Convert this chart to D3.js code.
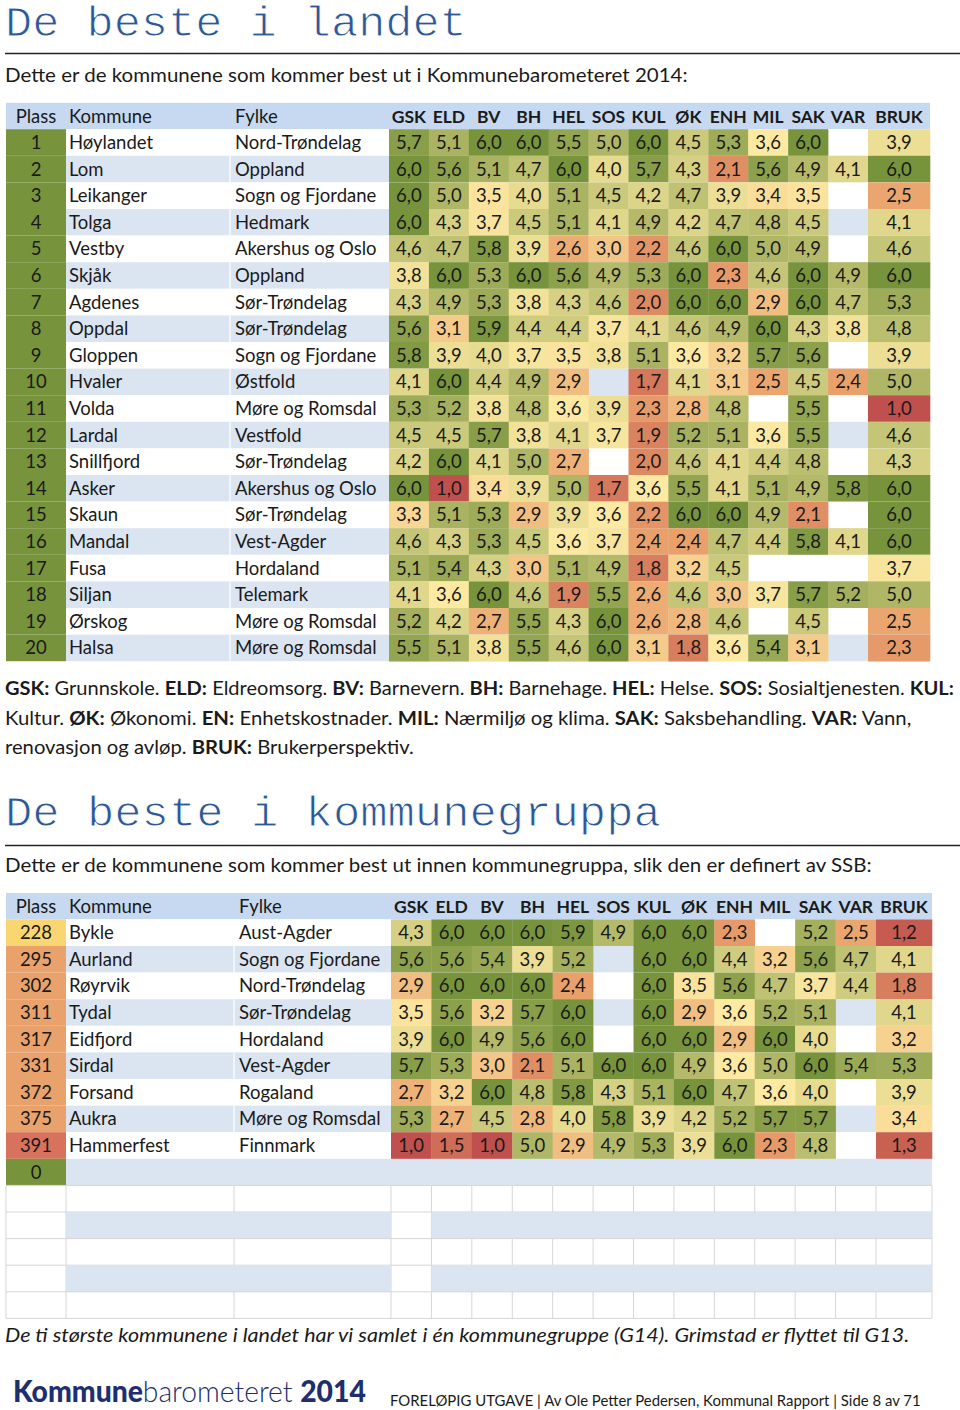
<!DOCTYPE html>
<html><head><meta charset="utf-8">
<script src="https://cdn.jsdelivr.net/npm/d3@7"></script>
<style>
html,body{margin:0;padding:0;background:#fff;}
svg{display:block;font-family:Lato,"Open Sans",sans-serif;}
</style></head>
<body>
<svg id="chart" width="960" height="1410"></svg>
<script>
// ---------- DATA ----------
const columns = ["GSK","ELD","BV","BH","HEL","SOS","KUL","ØK","ENH","MIL","SAK","VAR","BRUK"];

const landetPlass = [1,2,3,4,5,6,7,8,9,10,11,12,13,14,15,16,17,18,19,20];
const landetKommune = ["Høylandet","Lom","Leikanger","Tolga","Vestby","Skjåk","Agdenes","Oppdal","Gloppen","Hvaler","Volda","Lardal","Snillfjord","Asker","Skaun","Mandal","Fusa","Siljan","Ørskog","Halsa"];
const landetFylke = ["Nord-Trøndelag","Oppland","Sogn og Fjordane","Hedmark","Akershus og Oslo","Oppland","Sør-Trøndelag","Sør-Trøndelag","Sogn og Fjordane","Østfold","Møre og Romsdal","Vestfold","Sør-Trøndelag","Akershus og Oslo","Sør-Trøndelag","Vest-Agder","Hordaland","Telemark","Møre og Romsdal","Møre og Romsdal"];
const landetVerdier = [
  [5.7,5.1,6.0,6.0,5.5,5.0,6.0,4.5,5.3,3.6,6.0,null,3.9],
  [6.0,5.6,5.1,4.7,6.0,4.0,5.7,4.3,2.1,5.6,4.9,4.1,6.0],
  [6.0,5.0,3.5,4.0,5.1,4.5,4.2,4.7,3.9,3.4,3.5,null,2.5],
  [6.0,4.3,3.7,4.5,5.1,4.1,4.9,4.2,4.7,4.8,4.5,null,4.1],
  [4.6,4.7,5.8,3.9,2.6,3.0,2.2,4.6,6.0,5.0,4.9,null,4.6],
  [3.8,6.0,5.3,6.0,5.6,4.9,5.3,6.0,2.3,4.6,6.0,4.9,6.0],
  [4.3,4.9,5.3,3.8,4.3,4.6,2.0,6.0,6.0,2.9,6.0,4.7,5.3],
  [5.6,3.1,5.9,4.4,4.4,3.7,4.1,4.6,4.9,6.0,4.3,3.8,4.8],
  [5.8,3.9,4.0,3.7,3.5,3.8,5.1,3.6,3.2,5.7,5.6,null,3.9],
  [4.1,6.0,4.4,4.9,2.9,null,1.7,4.1,3.1,2.5,4.5,2.4,5.0],
  [5.3,5.2,3.8,4.8,3.6,3.9,2.3,2.8,4.8,null,5.5,null,1.0],
  [4.5,4.5,5.7,3.8,4.1,3.7,1.9,5.2,5.1,3.6,5.5,null,4.6],
  [4.2,6.0,4.1,5.0,2.7,null,2.0,4.6,4.1,4.4,4.8,null,4.3],
  [6.0,1.0,3.4,3.9,5.0,1.7,3.6,5.5,4.1,5.1,4.9,5.8,6.0],
  [3.3,5.1,5.3,2.9,3.9,3.6,2.2,6.0,6.0,4.9,2.1,null,6.0],
  [4.6,4.3,5.3,4.5,3.6,3.7,2.4,2.4,4.7,4.4,5.8,4.1,6.0],
  [5.1,5.4,4.3,3.0,5.1,4.9,1.8,3.2,4.5,null,null,null,3.7],
  [4.1,3.6,6.0,4.6,1.9,5.5,2.6,4.6,3.0,3.7,5.7,5.2,5.0],
  [5.2,4.2,2.7,5.5,4.3,6.0,2.6,2.8,4.6,null,4.5,null,2.5],
  [5.5,5.1,3.8,5.5,4.6,6.0,3.1,1.8,3.6,5.4,3.1,null,2.3]
];

const gruppePlass = [228,295,302,311,317,331,372,375,391,0];
const gruppeKommune = ["Bykle","Aurland","Røyrvik","Tydal","Eidfjord","Sirdal","Forsand","Aukra","Hammerfest",""];
const gruppeFylke = ["Aust-Agder","Sogn og Fjordane","Nord-Trøndelag","Sør-Trøndelag","Hordaland","Vest-Agder","Rogaland","Møre og Romsdal","Finnmark",""];
const gruppeVerdier = [
  [4.3,6.0,6.0,6.0,5.9,4.9,6.0,6.0,2.3,null,5.2,2.5,1.2],
  [5.6,5.6,5.4,3.9,5.2,null,6.0,6.0,4.4,3.2,5.6,4.7,4.1],
  [2.9,6.0,6.0,6.0,2.4,null,6.0,3.5,5.6,4.7,3.7,4.4,1.8],
  [3.5,5.6,3.2,5.7,6.0,null,6.0,2.9,3.6,5.2,5.1,null,4.1],
  [3.9,6.0,4.9,5.6,6.0,null,6.0,6.0,2.9,6.0,4.0,null,3.2],
  [5.7,5.3,3.0,2.1,5.1,6.0,6.0,4.9,3.6,5.0,6.0,5.4,5.3],
  [2.7,3.2,6.0,4.8,5.8,4.3,5.1,6.0,4.7,3.6,4.0,null,3.9],
  [5.3,2.7,4.5,2.8,4.0,5.8,3.9,4.2,5.2,5.7,5.7,null,3.4],
  [1.0,1.5,1.0,5.0,2.9,4.9,5.3,3.9,6.0,2.3,4.8,null,1.3],
  [null,null,null,null,null,null,null,null,null,null,null,null,null]
];
const gruppeTommeRader = 5;

const title1 = "De beste i landet";
const sub1 = "Dette er de kommunene som kommer best ut i Kommunebarometeret 2014:";
const title2 = "De beste i kommunegruppa";
const sub2 = "Dette er de kommunene som kommer best ut innen kommunegruppa, slik den er definert av SSB:";
const legendLines = [
  [["GSK:",1],[" Grunnskole. ",0],["ELD:",1],[" Eldreomsorg. ",0],["BV:",1],[" Barnevern. ",0],["BH:",1],[" Barnehage. ",0],["HEL:",1],[" Helse. ",0],["SOS:",1],[" Sosialtjenesten. ",0],["KUL:",1]],
  [["Kultur. ",0],["ØK:",1],[" Økonomi. ",0],["EN:",1],[" Enhetskostnader. ",0],["MIL:",1],[" Nærmiljø og klima. ",0],["SAK:",1],[" Saksbehandling. ",0],["VAR:",1],[" Vann,",0]],
  [["renovasjon og avløp. ",0],["BRUK:",1],[" Brukerperspektiv.",0]]
];
const note = "De ti største kommunene i landet har vi samlet i én kommunegruppe (G14). Grimstad er flyttet til G13.";
const footer = "FORELØPIG UTGAVE | Av Ole Petter Pedersen, Kommunal Rapport | Side 8 av 71";

// ---------- STYLE ----------
const svg = d3.select("#chart");
svg.append("rect").attr("width",960).attr("height",1410).attr("fill","#fff");
const TITLE_COLOR = "#2d5897";
const HEADER_BG = "#c6d9f0";
const STRIPE = "#dbe5f1";
const GREEN = "#77933c";
const TEXT = "#1a1a1a";

const valueColor = d3.scaleLinear()
  .domain([1, 2.4, 3.6, 6])
  .range(["#c0504d","#e9a06b","#fde9a1","#77933c"])
  .interpolate(d3.interpolateRgb)
  .clamp(true);

const plassColor = d3.scaleThreshold()
  .domain([1, 100, 250, 380])
  .range([GREEN, GREEN, "#f9d671", "#e9a26c", "#d8725d"]);

function fit(sel, x, target) {
  const w = sel.node().getBBox().width;
  const s = target / w;
  sel.attr("transform", `translate(${x},0) scale(${s},1) translate(${-x},0)`);
}

// ---------- TITLES ----------
function heading(text, baseline, ruleY, width) {
  const t = svg.append("text").attr("x",5).attr("y",baseline)
    .attr("font-family","'Liberation Mono','DejaVu Sans Mono',monospace")
    .attr("font-size",42).attr("fill",TITLE_COLOR)
    .attr("stroke","#fff").attr("stroke-width",0.9).text(text);
  fit(t,5,width);
  svg.append("line").attr("x1",5).attr("x2",960).attr("y1",ruleY).attr("y2",ruleY)
    .attr("stroke","#222").attr("stroke-width",1.5);
}
heading(title1, 36, 53.5, 462);
heading(title2, 826, 845.5, 656);

const s1 = svg.append("text").attr("x",5).attr("y",82).attr("font-size",19).attr("fill",TEXT).text(sub1);
fit(s1,5,683);
const s2 = svg.append("text").attr("x",5).attr("y",872).attr("font-size",19).attr("fill",TEXT).text(sub2);
fit(s2,5,867);

// ---------- TABLE ----------
function drawTable(cfg) {
  const g = svg.append("g");
  const nRows = cfg.plass.length;
  const rowH = 26.6;
  const headerH = 26.4;
  const y = d3.scaleBand().domain(d3.range(nRows + (cfg.empty||0)))
    .range([cfg.top + headerH, cfg.top + headerH + rowH*(nRows + (cfg.empty||0))]);
  const xMain = d3.scaleBand().domain(columns.slice(0,12)).range([cfg.xVal, cfg.xBruk]);
  const colX = c => c === "BRUK" ? cfg.xBruk : xMain(c);
  const colW = c => c === "BRUK" ? cfg.xEnd - cfg.xBruk : xMain.bandwidth();

  // header
  g.append("rect").attr("x",cfg.x0).attr("y",cfg.top).attr("width",cfg.xEnd-cfg.x0).attr("height",headerH).attr("fill",HEADER_BG);
  const hy = cfg.top + headerH/2 + 6.5;
  g.append("text").attr("x",(cfg.x0+cfg.xKom)/2).attr("y",hy).attr("text-anchor","middle").attr("font-size",18.5).attr("fill",TEXT).text("Plass");
  g.append("text").attr("x",cfg.xKom+3).attr("y",hy).attr("font-size",18.5).attr("fill",TEXT).text("Kommune");
  g.append("text").attr("x",cfg.xFyl+5).attr("y",hy).attr("font-size",18.5).attr("fill",TEXT).text("Fylke");
  columns.forEach(c => {
    g.append("text").attr("x",colX(c)+colW(c)/2).attr("y",hy).attr("text-anchor","middle")
      .attr("font-size",17.5).attr("font-weight",700).attr("fill",TEXT).text(c);
  });

  // data rows
  cfg.plass.forEach((p,i) => {
    const ry = y(i), h = y.bandwidth();
    const stripe = i % 2 === 1 ? STRIPE : "#fff";
    g.append("rect").attr("x",cfg.xKom).attr("y",ry).attr("width",cfg.xEnd-cfg.xKom).attr("height",h).attr("fill",stripe);
    g.append("rect").attr("x",cfg.x0).attr("y",ry).attr("width",cfg.xKom-cfg.x0).attr("height",h).attr("fill",plassColor(p));
    const ty = ry + h/2 + 6.5;
    g.append("text").attr("x",(cfg.x0+cfg.xKom)/2).attr("y",ty).attr("text-anchor","middle").attr("font-size",18.5).attr("fill",TEXT).text(p);
    if (cfg.kommune[i]) {
      g.append("text").attr("x",cfg.xKom+3).attr("y",ty).attr("font-size",18.5).attr("fill",TEXT).text(cfg.kommune[i]);
      g.append("text").attr("x",cfg.xFyl+5).attr("y",ty).attr("font-size",18.5).attr("fill",TEXT).text(cfg.fylke[i]);
      g.append("line").attr("x1",cfg.xFyl).attr("x2",cfg.xFyl).attr("y1",ry).attr("y2",ry+h).attr("stroke","#fff").attr("stroke-width",1.2);
    }
    cfg.values[i].forEach((v,j) => {
      if (v === null) return;
      const c = columns[j];
      g.append("rect").attr("x",colX(c)).attr("y",ry).attr("width",colW(c)+0.3).attr("height",h+0.3).attr("fill",valueColor(v));
      g.append("text").attr("x",colX(c)+colW(c)/2).attr("y",ty).attr("text-anchor","middle")
        .attr("font-size",18.5).attr("fill",TEXT).text(d3.format(".1f")(v).replace(".",","));
    });
  });

  // empty rows (grid)
  const grid = "#d6d6d6";
  for (let k = 0; k < (cfg.empty||0); k++) {
    const ry = y(nRows + k), h = y.bandwidth();
    const blue = k % 2 === 1;
    if (blue) {
      const bx = [cfg.x0, cfg.xKom, colX("GSK"), colX("ELD"), cfg.xEnd];
      bx.forEach(x => g.append("line").attr("x1",x).attr("x2",x).attr("y1",ry).attr("y2",ry+h).attr("stroke",grid));
      g.append("rect").attr("x",colX("ELD")).attr("y",ry).attr("width",cfg.xEnd-colX("ELD")).attr("height",h).attr("fill",STRIPE);
      g.append("rect").attr("x",cfg.xKom).attr("y",ry).attr("width",colX("GSK")-cfg.xKom).attr("height",h).attr("fill",STRIPE);
    } else {
      const bx = [cfg.x0, cfg.xKom, cfg.xFyl].concat(columns.map(colX)).concat([cfg.xEnd]);
      bx.forEach(x => g.append("line").attr("x1",x).attr("x2",x).attr("y1",ry).attr("y2",ry+h).attr("stroke",grid));
      g.append("line").attr("x1",cfg.x0).attr("x2",cfg.xEnd).attr("y1",ry).attr("y2",ry).attr("stroke",grid);
      g.append("line").attr("x1",cfg.x0).attr("x2",cfg.xEnd).attr("y1",ry+h).attr("y2",ry+h).attr("stroke",grid);
    }
  }
}

drawTable({top:102.8, x0:6, xKom:66, xFyl:230, xVal:389, xBruk:868, xEnd:930,
  plass:landetPlass, kommune:landetKommune, fylke:landetFylke, values:landetVerdier});
drawTable({top:893, x0:6, xKom:66, xFyl:234, xVal:391, xBruk:876, xEnd:932,
  plass:gruppePlass, kommune:gruppeKommune, fylke:gruppeFylke, values:gruppeVerdier, empty:gruppeTommeRader});

// ---------- LEGEND ----------
const targets = [950, 907, 409];
const bases = [695, 725, 754];
legendLines.forEach((parts,i) => {
  const t = svg.append("text").attr("x",5).attr("y",bases[i]).attr("font-size",19).attr("fill",TEXT).attr("xml:space","preserve");
  parts.forEach(([s,b]) => t.append("tspan").attr("font-weight", b ? 700 : 400).text(s));
  fit(t,5,targets[i]);
});

// ---------- NOTE ----------
const n = svg.append("text").attr("x",5).attr("y",1342).attr("font-size",19).attr("font-style","italic").attr("fill",TEXT).text(note);
fit(n,5,905);

// ---------- FOOTER ----------
const logo = svg.append("text").attr("x",13).attr("y",1402).attr("font-size",30).attr("fill","#1d2f6f").attr("xml:space","preserve");
logo.append("tspan").attr("font-weight",900).text("Kommune");
logo.append("tspan").attr("font-weight",300).text("barometeret ");
logo.append("tspan").attr("font-weight",900).text("2014");
fit(logo,13,353);
const f = svg.append("text").attr("x",390).attr("y",1406).attr("font-size",15).attr("fill",TEXT).text(footer);
fit(f,390,531);
</script>
</body></html>
